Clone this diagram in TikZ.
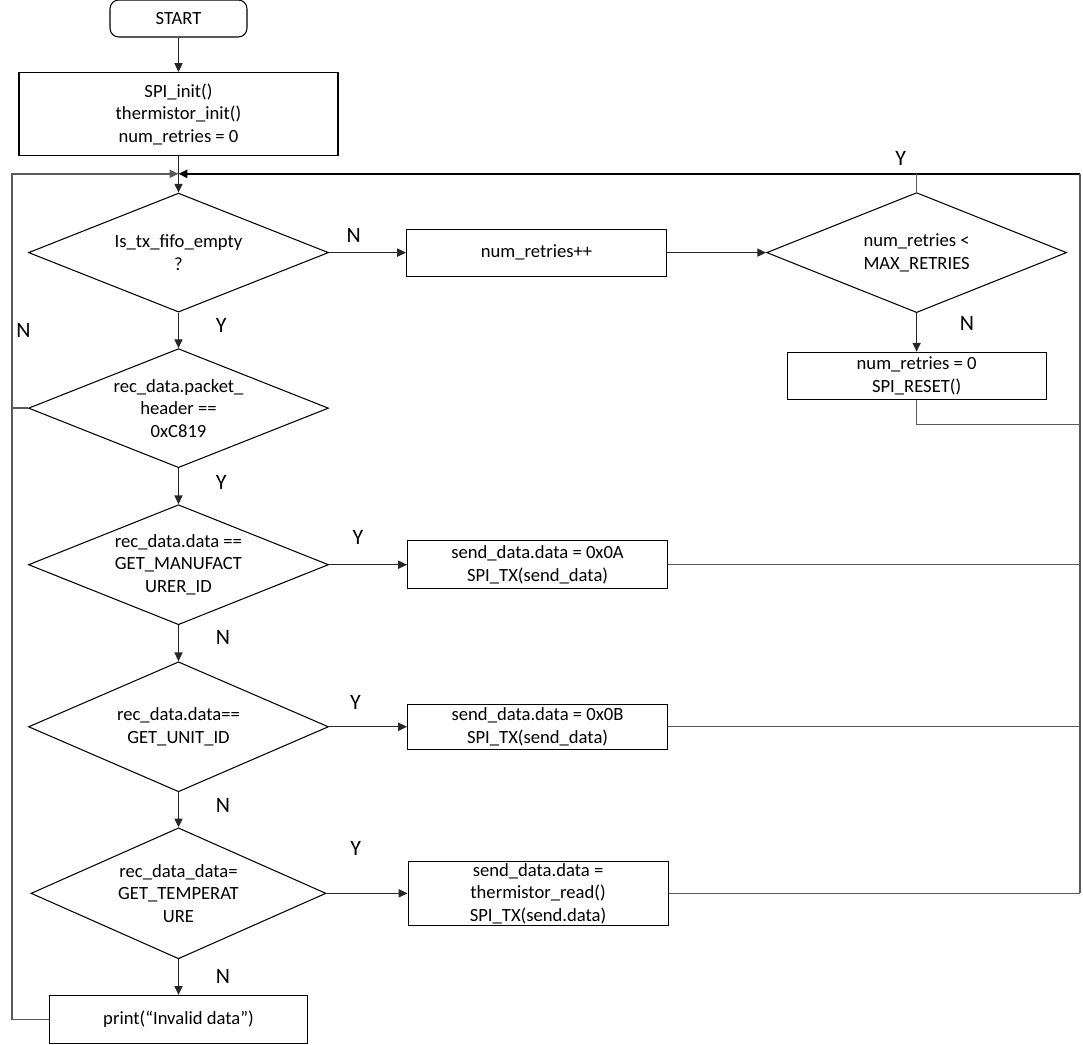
\documentclass[tikz,border=0pt]{standalone}
\usepackage{fontspec}
\setmainfont{Carlito}
\definecolor{conn}{RGB}{90, 90, 90}
\usetikzlibrary{shapes.geometric, arrows.meta, positioning, calc}

\begin{document}
\begin{tikzpicture}[
            txt/.style={font=\fontsize{10.6}{12.8}\selectfont},
            block/.style={txt, draw=black, line width=0.6pt, align=center, minimum width=5.2cm, minimum height=0.94cm, inner sep=1pt},
            startbox/.style={block, rounded corners=5pt, minimum width=2.74cm, minimum height=0.74cm},
            decision/.style={txt, diamond, draw=black, line width=0.6pt, aspect=2.5, inner sep=0pt, align=center, minimum width=6cm, minimum height=2.4cm},
            arr/.style={-{Triangle[length=5pt, width=4.6pt]}, line width=0.7pt, black!85},
            link/.style={line width=0.8pt, conn},
            rail/.style={line width=1.1pt, black},
            lbl/.style={font=\fontsize{12.5}{14}\selectfont, inner sep=1pt, text=black}
        ]
            \useasboundingbox (0,0) rectangle (21.66,-20.88);
            \node[startbox] (start) at (3.57,-0.37) {START};
            \node[block, below=0.69cm of start, minimum width=6.38cm, minimum height=1.66cm] (init) {SPI\_init()\\thermistor\_init()\\num\_retries = 0};
            \node[decision, below=0.73cm of init, minimum height=2.38cm] (fifo) {Is\_tx\_fifo\_empty\\?};
            \node[decision, below=0.71cm of fifo, minimum height=2.38cm] (header) {rec\_data.packet\_\\header ==\\0xC819};
            \node[decision, below=0.72cm of header] (manuf) {rec\_data.data ==\\GET\_MANUFACT\\URER\_ID};
            \node[decision, below=0.72cm of manuf, minimum height=2.6cm] (unitid) {rec\_data.data==\\GET\_UNIT\_ID};
            \node[decision, below=0.7cm of unitid, minimum width=5.9cm, minimum height=2.62cm] (temp) {rec\_data\_data=\\GET\_TEMPERAT\\URE};
            \node[block, below=0.71cm of temp, minimum width=5.16cm, minimum height=0.96cm] (invalid) {print(“Invalid data”)};
            \node[block, right=1.54cm of fifo] (retry) {num\_retries++};
            \node[decision, right=1.98cm of retry] (maxtry) {num\_retries <\\MAX\_RETRIES};
            \node[block, below=0.77cm of maxtry, minimum width=5.18cm] (reset) {num\_retries = 0\\SPI\_RESET()};
            \node[block, right=1.56cm of manuf, minimum height=0.96cm] (senda) {send\_data.data = 0x0A\\SPI\_TX(send\_data)};
            \node[block, right=1.56cm of unitid, minimum height=0.9cm] (sendb) {send\_data.data = 0x0B\\SPI\_TX(send\_data)};
            \node[block, right=1.62cm of temp, minimum height=1.26cm] (sendc) {send\_data.data =\\thermistor\_read()\\SPI\_TX(send.data)};
            \coordinate (merge) at ($(init.south)!0.486!(fifo.north)$);
            \coordinate (rtop) at ($(merge)+(18.03,0)$);
            \coordinate (ltop) at ($(merge)+(-3.33,0)$);
            \coordinate (rjoin) at ($(reset.south)+(0,-0.5)$);
            \draw[arr] (start) -- (init);
            \draw[arr] (init) -- (fifo);
            \draw[arr] (fifo) -- node[lbl, pos=0.32, above=0.16cm] {N} (retry);
            \draw[arr] (retry) -- (maxtry);
            \draw[arr] (maxtry) -- node[lbl, pos=0.28, right=0.82cm] {N} (reset);
            \draw[arr] (fifo) -- node[lbl, pos=0.35, right=0.7cm] {Y} (header);
            \draw[arr] (header) -- node[lbl, pos=0.4, right=0.7cm] {Y} (manuf);
            \draw[arr] (manuf) -- node[lbl, pos=0.35, right=0.7cm] {N} (unitid);
            \draw[arr] (unitid) -- node[lbl, pos=0.37, right=0.7cm] {N} (temp);
            \draw[arr] (temp) -- node[lbl, pos=0.47, right=0.7cm] {N} (invalid);
            \draw[arr] (manuf) -- node[lbl, pos=0.37, above=0.36cm] {Y} (senda);
            \draw[arr] (unitid) -- node[lbl, pos=0.34, above=0.3cm] {Y} (sendb);
            \draw[arr] (temp) -- node[lbl, pos=0.36, above=0.7cm] {Y} (sendc);
            \draw[rail, -{Triangle[length=5pt, width=4.6pt]}] (rtop) -- (merge);
            \draw[link] (maxtry.north) -- node[lbl, pos=1, above left=0.12cm and 0.16cm] {Y} (maxtry.north |- merge);
            \draw[rail, conn] (rtop) -- (sendc.east -| rtop);
            \draw[link] (reset.south) -- (rjoin) -- (rjoin -| rtop);
            \draw[link] (senda.east) -- (senda.east -| rtop);
            \draw[link] (sendb.east) -- (sendb.east -| rtop);
            \draw[link] (sendc.east) -- (sendc.east -| rtop);
            \draw[link, -{Triangle[length=5pt, width=4.6pt]}] (header.west) -- (header.west -| ltop) -- node[lbl, pos=0.33, right=0.04cm] {N} (ltop) -- (merge);
            \draw[link] (invalid.west) -- (invalid.west -| ltop) -- (header.west -| ltop);
        \end{tikzpicture}
\end{document}
